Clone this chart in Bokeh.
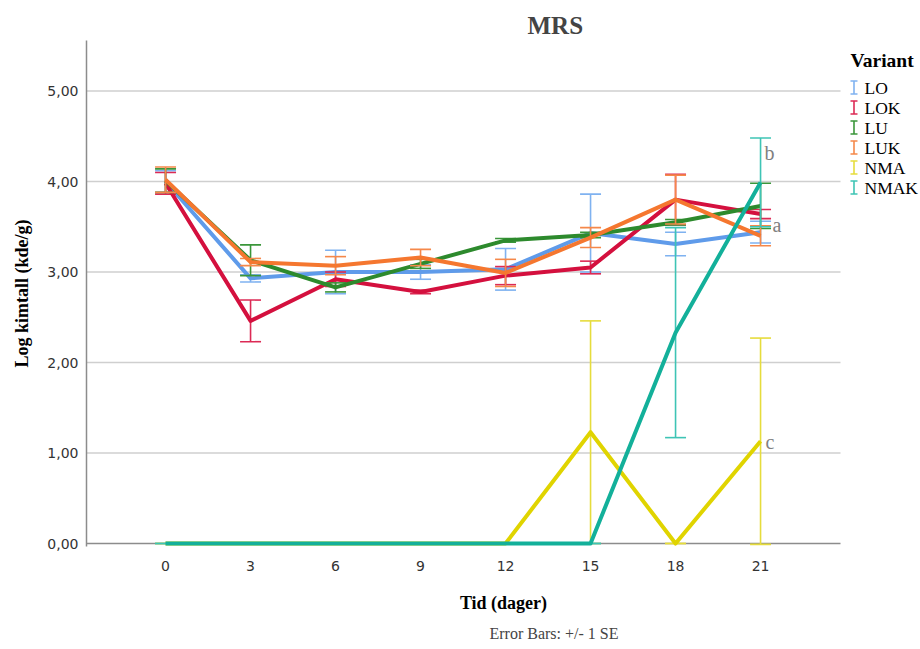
from bokeh.plotting import figure
from bokeh.models import Range1d, FixedTicker, Title, ColumnDataSource
from bokeh.core.properties import value
from bokeh.embed import file_html
from bokeh.resources import INLINE

# ---------------- data ----------------
days = [0, 3, 6, 9, 12, 15, 18, 21]
day_labels = ["0", "3", "6", "9", "12", "15", "18", "21"]
y_ticks = [0, 1, 2, 3, 4, 5]
y_tick_labels = ["0,00", "1,00", "2,00", "3,00", "4,00", "5,00"]

variants = ["LO", "LOK", "LU", "LUK", "NMA", "NMAK"]

lo_mean = [4.00, 2.93, 3.00, 3.00, 3.03, 3.43, 3.31, 3.44]
lo_se = [0.12, 0.04, 0.24, 0.08, 0.23, 0.43, 0.13, 0.12]
lok_mean = [3.98, 2.46, 2.92, 2.78, 2.96, 3.05, 3.80, 3.64]
lok_se = [0.12, 0.23, 0.08, 0.02, 0.10, 0.07, 0.28, 0.05]
lu_mean = [4.01, 3.13, 2.83, 3.09, 3.35, 3.41, 3.55, 3.73]
lu_se = [0.13, 0.17, 0.05, 0.05, 0.02, 0.03, 0.03, 0.25]
luk_mean = [4.02, 3.11, 3.07, 3.16, 2.99, 3.38, 3.80, 3.40]
luk_se = [0.14, 0.04, 0.10, 0.09, 0.15, 0.11, 0.27, 0.11]
nma_mean = [0, 0, 0, 0, 0, 1.23, 0, 1.13]
nma_se = [0, 0, 0, 0, 0, 1.23, 0, 1.14]
nmak_mean = [0, 0, 0, 0, 0, 0, 2.33, 3.99]
nmak_se = [0, 0, 0, 0, 0, 0, 1.16, 0.49]

sig_letters = ["a", "b", "c"]
sig_day = [21, 21, 21]
sig_y = [3.52, 4.32, 1.12]

means = [lo_mean, lok_mean, lu_mean, luk_mean, nma_mean, nmak_mean]
ses = [lo_se, lok_se, lu_se, luk_se, nma_se, nmak_se]

line_colors = ["#5f9bea", "#d4103e", "#2d8a2d", "#f5772f", "#e0d400", "#13b09a"]
bar_colors = ["#7fb2f0", "#dc2a55", "#3a963a", "#f5884a", "#e6dc3c", "#3ec4b5"]

SERIF = "Liberation Serif"

# ---------------- layout (pixels) ----------------
W, H = 920, 649
FRAME_L, FRAME_R, FRAME_T, FRAME_B = 86, 920, 40, 546
PX_PER_DAY = 85 / 3.0
X_START = -2.79
X_END = X_START + (FRAME_R - FRAME_L) / PX_PER_DAY
PLOT_X_END = X_START + (840 - FRAME_L) / PX_PER_DAY   # end of grid / axis
Y_START, Y_END = -0.033, 5.558
PX_PER_UNIT = (FRAME_B - FRAME_T) / (Y_END - Y_START)


def xd(px):
    return X_START + (px - FRAME_L) / PX_PER_DAY


def yd(py):
    return Y_START + (FRAME_B - py) / PX_PER_UNIT


p = figure(width=W, height=H, output_backend="svg", toolbar_location=None,
           x_range=Range1d(X_START, X_END), y_range=Range1d(Y_START, Y_END),
           min_border_left=FRAME_L, min_border_right=W - FRAME_R,
           min_border_top=FRAME_T, min_border_bottom=H - FRAME_B)
p.outline_line_color = None
p.background_fill_color = "white"

# axes
p.xaxis.ticker = FixedTicker(ticks=days)
p.xaxis.major_label_overrides = {d: l for d, l in zip(days, day_labels)}
p.yaxis.ticker = FixedTicker(ticks=y_ticks)
p.yaxis.major_label_overrides = {t: l for t, l in zip(y_ticks, y_tick_labels)}
for ax in (p.xaxis, p.yaxis):
    ax.major_tick_line_color = None
    ax.minor_tick_line_color = None
    ax.major_label_text_font = "DejaVu Sans"
    ax.major_label_text_font_size = "14px"
    ax.major_label_text_color = "#333333"
    ax.axis_label_text_font = SERIF
    ax.axis_label_text_font_style = "bold"
    ax.axis_label_text_font_size = "18px"
    ax.axis_label_text_color = "#000000"
p.xaxis.axis_line_color = None
p.yaxis.axis_line_color = "#8c8c8c"
p.yaxis.axis_line_width = 1.5
p.xaxis.major_label_standoff = 8
p.yaxis.major_label_standoff = 2
p.xaxis.axis_label = "Tid (dager)"
p.yaxis.axis_label = "Log kimtall (kde/g)"
p.xaxis.axis_label_standoff = 19
p.yaxis.axis_label_standoff = 12
p.xgrid.visible = False
p.ygrid.visible = False

# horizontal grid lines and zero baseline, limited to the plot area
grid_vals = y_ticks[1:]
p.segment(x0=[X_START] * len(grid_vals), x1=[PLOT_X_END] * len(grid_vals),
          y0=grid_vals, y1=grid_vals, line_color="#cfcfcf", line_width=1.5)
p.segment(x0=[X_START], x1=[PLOT_X_END], y0=[0], y1=[0],
          line_color="#8c8c8c", line_width=1.5)

cap_half = 0.37
for name, m, s, lc, bc in zip(variants, means, ses, line_colors, bar_colors):
    lo = [a - b for a, b in zip(m, s)]
    hi = [a + b for a, b in zip(m, s)]
    src = ColumnDataSource(dict(x=days, lo=lo, hi=hi,
                                xl=[d - cap_half for d in days],
                                xr=[d + cap_half for d in days]))
    p.segment(x0="x", x1="x", y0="lo", y1="hi", source=src,
              line_color=bc, line_width=1.6)
    p.segment(x0="xl", x1="xr", y0="lo", y1="lo", source=src,
              line_color=bc, line_width=1.6)
    p.segment(x0="xl", x1="xr", y0="hi", y1="hi", source=src,
              line_color=bc, line_width=1.6)
    p.line(days, m, line_color=lc, line_width=4, line_join="round")

sig_src = ColumnDataSource(dict(x=sig_day, y=sig_y, t=sig_letters, dx=[12, 4, 5]))
p.text(x="x", y="y", text="t", x_offset="dx", source=sig_src,
       text_align="left", text_baseline="middle",
       text_font=value(SERIF), text_font_size="20px", text_color="#808080")

# ---------------- legend (drawn in the right margin area) ----------------
LEG_X, LEG_TITLE_Y, LEG_ROW0, LEG_STEP = 850, 60, 87, 20
p.text(x=[xd(LEG_X)], y=[yd(LEG_TITLE_Y)], text=["Variant"],
       text_align="left", text_baseline="middle", text_font=value(SERIF),
       text_font_style="bold", text_font_size="19.5px", text_color="#000000")
rows_y = [LEG_ROW0 + i * LEG_STEP for i in range(len(variants))]
icon_x = xd(LEG_X + 3.5)
icon_l, icon_r = xd(LEG_X), xd(LEG_X + 7)
p.segment(x0=[icon_x] * len(rows_y), x1=[icon_x] * len(rows_y),
          y0=[yd(r - 6.5) for r in rows_y], y1=[yd(r + 6.5) for r in rows_y],
          line_color=bar_colors, line_width=1.6)
p.segment(x0=[icon_l] * len(rows_y), x1=[icon_r] * len(rows_y),
          y0=[yd(r - 6.5) for r in rows_y], y1=[yd(r - 6.5) for r in rows_y],
          line_color=bar_colors, line_width=1.6)
p.segment(x0=[icon_l] * len(rows_y), x1=[icon_r] * len(rows_y),
          y0=[yd(r + 6.5) for r in rows_y], y1=[yd(r + 6.5) for r in rows_y],
          line_color=bar_colors, line_width=1.6)
p.text(x=[xd(LEG_X + 14)] * len(rows_y), y=[yd(r) for r in rows_y], text=variants,
       text_align="left", text_baseline="middle", text_font=value(SERIF),
       text_font_size="17.5px", text_color="#000000")

title = Title(text="MRS", align="left", offset=441, text_font=SERIF,
              text_font_style="bold", text_font_size="25px", standoff=4)
p.add_layout(title, "above")

note = Title(text="Error Bars: +/- 1 SE", align="left", offset=403,
             text_font=SERIF, text_font_style="normal", text_font_size="16px",
             standoff=15)
p.add_layout(note, "below")

open("out.html", "w").write(file_html(p, INLINE))
